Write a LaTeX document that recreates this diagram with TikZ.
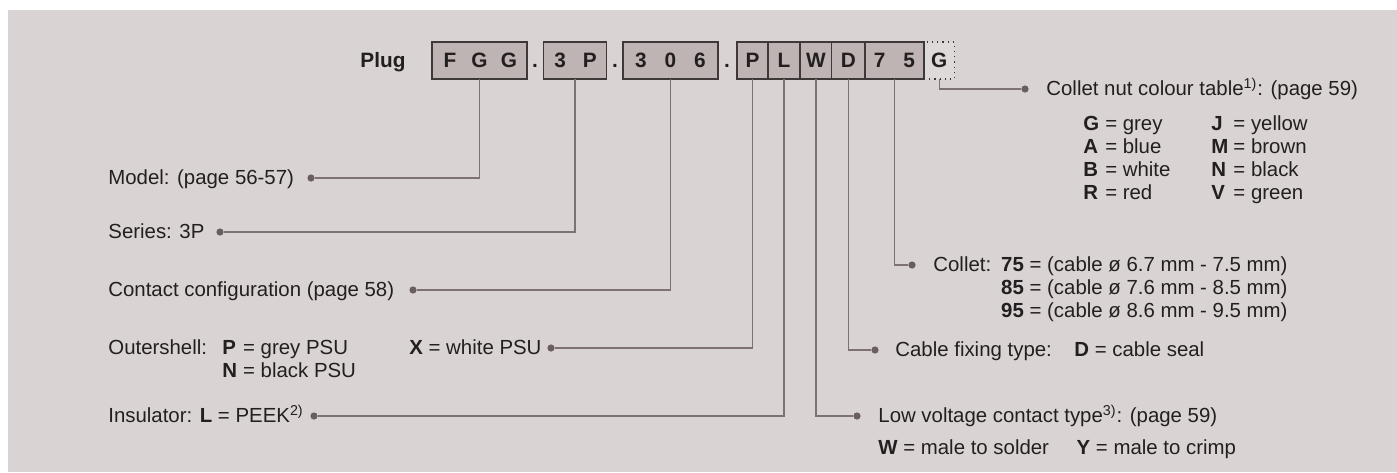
\documentclass[tikz,border=0pt]{standalone}
\usepackage{fontspec}
\setmainfont{Liberation Sans}

\definecolor{panelbg}{HTML}{D9D4D3}
\definecolor{cellfill}{HTML}{BDB4B3}
\definecolor{nutfill}{HTML}{DEDAD9}
\definecolor{cellline}{HTML}{3E3838}
\definecolor{leadline}{HTML}{7E7171}
\definecolor{leaddot}{HTML}{6A5E5E}
\definecolor{ink}{HTML}{231F20}

\newcommand{\labelfont}{\fontsize{10.2pt}{11.5pt}\selectfont}
\newcommand{\codefont}{\fontsize{10.4pt}{11.5pt}\selectfont\bfseries}
\newcommand{\codechar}[1]{\makebox[14.75pt]{#1}}

\tikzset{
  cell/.style={draw=cellline, fill=cellfill, line width=0.6pt, minimum height=18.5pt,
    inner sep=0pt, outer sep=0pt, text=ink, font=\codefont},
  lead/.style={draw=leadline, line width=0.65pt},
  tip/.style={circle, fill=leaddot, inner sep=0pt, minimum size=3.6pt},
  lbl/.style={anchor=base west, inner sep=0pt, text=ink, font=\labelfont},
}

\begin{document}
\begin{tikzpicture}[x=0.5pt, y=-0.5pt]
    \useasboundingbox (0,0) rectangle (1397,472);
    \fill[panelbg] (8,10) rectangle (1397,472);

    % order code
    \node[lbl, font=\codefont, anchor=base] (plug) at (383,67.5) {Plug};
    \node[cell, minimum width=47.5pt] (fgg) at (479.5,60.5) {\codechar{F}\codechar{G}\codechar{G}};
    \node[lbl, font=\codefont, anchor=base] (sep1) at (535,67.5) {.};
    \node[cell, minimum width=31.85pt] (series) at (575,60.5) {\codechar{3}\codechar{P}};
    \node[lbl, font=\codefont, anchor=base] (sep2) at (615,67.5) {.};
    \node[cell, minimum width=47.5pt] (config) at (670.5,60.5) {\codechar{3}\codechar{0}\codechar{6}};
    \node[lbl, font=\codefont, anchor=base] (sep3) at (727,67.5) {.};
    \node[cell, fill=nutfill, dotted, minimum width=15.15pt] (nut) at (939.2,60.5) {G};
    \node[cell, minimum width=15.5pt] (shell) at (752.5,60.5) {P};
    \node[cell, minimum width=16pt] (insul) at (784,60.5) {L};
    \node[cell, minimum width=15.85pt] (contact) at (816,60.5) {W};
    \node[cell, minimum width=16.65pt] (fixing) at (848.3,60.5) {D};
    \node[cell, minimum width=29.5pt] (collet) at (894.5,60.5) {\codechar{7}\codechar{5}};

    % left side labels
    \node[tip] (modeltip) at (311,178) {};
    \node[lbl] (model) at (108,184.5) {Model: (page 56-57)};
    \node[tip] (seriestip) at (220,232) {};
    \node[lbl] (serieslbl) at (108,238.5) {Series: 3P};
    \node[tip] (configtip) at (413,290) {};
    \node[lbl] (configlbl) at (108,296.5) {Contact configuration (page 58)};
    \node[tip] (shelltip) at (551,348) {};
    \node[lbl] (shelllbl) at (108,354.5) {\begin{tabular}[t]{@{}l@{\hspace{7.7pt}}l@{\hspace{3pt}}l@{}}
        Outershell: & \textbf{P} & = grey PSU\\
                    & \textbf{N} & = black PSU
      \end{tabular}};
    \node[lbl] (shellx) at (409,354.5) {\textbf{X} = white PSU};
    \node[tip] (insultip) at (314,416) {};
    \node[lbl] (insullbl) at (108,422.5) {Insulator: \textbf{L} = PEEK\textsuperscript{2)}};

    % right side labels
    \node[tip] (nuttip) at (1025,89) {};
    \node[lbl] (nutlbl) at (1046,95.5) {Collet nut colour table\textsuperscript{1)}: (page 59)};
    \node[lbl] (nutcolours) at (1083,130.5) {\begin{tabular}[t]{@{}l@{\hspace{3pt}}l@{\hspace{20.5pt}}l@{\hspace{2.5pt}}l@{}}
        \textbf{G} & = grey  & \textbf{J} & = yellow\\
        \textbf{A} & = blue  & \textbf{M} & = brown\\
        \textbf{B} & = white & \textbf{N} & = black\\
        \textbf{R} & = red   & \textbf{V} & = green
      \end{tabular}};
    \node[tip] (collettip) at (912,265) {};
    \node[lbl] (colletlbl) at (933,271.5) {\begin{tabular}[t]{@{}l@{\hspace{5pt}}l@{\hspace{2.85pt}}l@{}}
        Collet: & \textbf{75} & = (cable ø 6.7 mm - 7.5 mm)\\
                & \textbf{85} & = (cable ø 7.6 mm - 8.5 mm)\\
                & \textbf{95} & = (cable ø 8.6 mm - 9.5 mm)
      \end{tabular}};
    \node[tip] (fixingtip) at (875,350) {};
    \node[lbl] (fixinglbl) at (895,356.5) {Cable fixing type:\hspace{7.5pt} \textbf{D} = cable seal};
    \node[tip] (contacttip) at (857,416) {};
    \node[lbl] (contactlbl) at (878,422.5) {Low voltage contact type\textsuperscript{3)}: (page 59)};
    \node[lbl] (contactopt) at (878,454) {\textbf{W} = male to solder\hspace{11pt} \textbf{Y} = male to crimp};

    % leaders
    \draw[lead] (fgg.south) |- (modeltip);
    \draw[lead] (series.south) |- (seriestip);
    \draw[lead] (config.south) |- (configtip);
    \draw[lead] (shell.south) |- (shelltip);
    \draw[lead] (insul.south) |- (insultip);
    \draw[lead] (contact.south) |- (contacttip);
    \draw[lead] (fixing.south) |- (fixingtip);
    \draw[lead] (collet.south) |- (collettip);
    \draw[lead] (nut.south) |- (nuttip);
\end{tikzpicture}
\end{document}
